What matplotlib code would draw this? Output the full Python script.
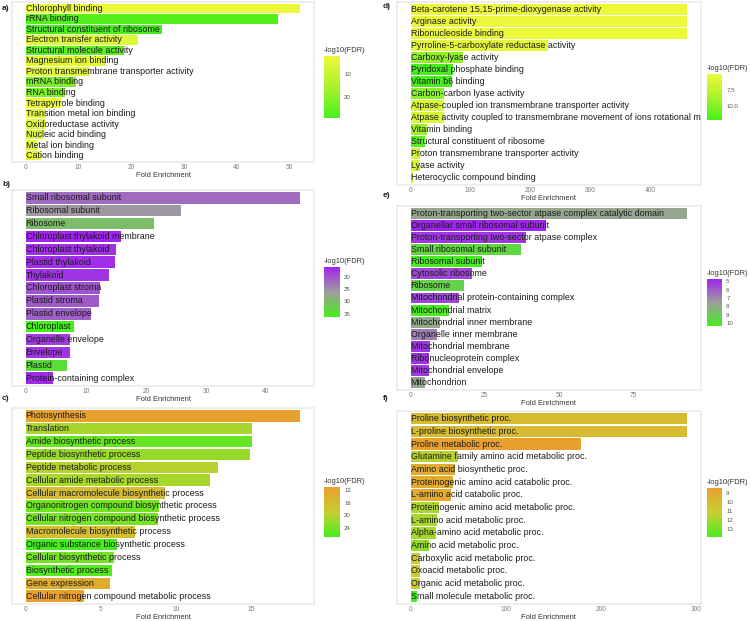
#!/usr/bin/env python3
"""
Six-panel GO enrichment bar chart (fold enrichment, coloured by -log10(FDR)).
"""

import matplotlib
matplotlib.use('Agg')
import matplotlib.pyplot as plt
from matplotlib.colors import LinearSegmentedColormap, Normalize
from matplotlib.cm import ScalarMappable

plt.rcParams['font.family'] = ['Liberation Sans', 'DejaVu Sans']

W, H = 750, 621

# ---- panel a) molecular function
a_terms = ['Chlorophyll binding', 'rRNA binding', 'Structural constituent of ribosome',
           'Electron transfer activity', 'Structural molecule activity', 'Magnesium ion binding',
           'Proton transmembrane transporter activity', 'mRNA binding', 'RNA binding',
           'Tetrapyrrole binding', 'Transition metal ion binding', 'Oxidoreductase activity',
           'Nucleic acid binding', 'Metal ion binding', 'Cation binding']
a_fold = [52.0, 47.8, 25.8, 21.3, 18.6, 15.2, 12.2, 9.6, 7.5, 6.7, 3.9, 3.6, 3.3, 2.2, 2.8]
a_fdr = [2.2, 27.0, 29.1, 5.0, 26.0, 4.0, 4.0, 22.0, 21.0, 3.0, 4.0, 5.0, 7.0, 4.0, 4.0]
a_xticks = [0, 10, 20, 30, 40, 50]
a_cticks = [10, 20]

# ---- panel b) cellular component
b_terms = ['Small ribosomal subunit', 'Ribosomal subunit', 'Ribosome',
           'Chloroplast thylakoid membrane', 'Chloroplast thylakoid', 'Plastid thylakoid',
           'Thylakoid', 'Chloroplast stroma', 'Plastid stroma', 'Plastid envelope',
           'Chloroplast', 'Organelle envelope', 'Envelope', 'Plastid',
           'Protein-containing complex']
b_fold = [45.7, 25.8, 21.3, 15.8, 15.0, 14.9, 13.8, 12.3, 12.2, 10.8, 8.0, 7.4, 7.4, 6.8, 4.5]
b_fdr = [22.0, 25.5, 30.0, 16.1, 17.0, 17.0, 17.5, 20.0, 20.5, 21.0, 36.3, 18.0, 17.5, 34.0, 16.5]
b_xticks = [0, 10, 20, 30, 40]
b_cticks = [20, 25, 30, 35]

# ---- panel c) biological process
c_terms = ['Photosynthesis', 'Translation', 'Amide biosynthetic process',
           'Peptide biosynthetic process', 'Peptide metabolic process',
           'Cellular amide metabolic process', 'Cellular macromolecule biosynthetic process',
           'Organonitrogen compound biosynthetic process',
           'Cellular nitrogen compound biosynthetic process',
           'Macromolecule biosynthetic process', 'Organic substance biosynthetic process',
           'Cellular biosynthetic process', 'Biosynthetic process', 'Gene expression',
           'Cellular nitrogen compound metabolic process']
c_fold = [18.3, 15.07, 15.05, 14.94, 12.8, 12.25, 9.31, 8.87, 8.83, 7.26, 6.07, 5.89, 5.78, 5.65, 3.9]
c_fdr = [11.2, 21.0, 25.0, 22.0, 20.0, 21.0, 16.0, 24.5, 24.0, 16.0, 27.0, 24.0, 26.0, 13.0, 10.9]
c_xticks = [0, 5, 10, 15]
c_cticks = [12, 16, 20, 24]

# ---- panel d) molecular function
d_terms = ['Beta-carotene 15,15-prime-dioxygenase activity', 'Arginase activity',
           'Ribonucleoside binding', 'Pyrroline-5-carboxylate reductase activity',
           'Carboxy-lyase activity', 'Pyridoxal phosphate binding', 'Vitamin b6 binding',
           'Carbon-carbon lyase activity', 'Atpase-coupled ion transmembrane transporter activity',
           'Atpase activity coupled to transmembrane movement of ions rotational mechanism',
           'Vitamin binding', 'Structural constituent of ribosome',
           'Proton transmembrane transporter activity', 'Lyase activity',
           'Heterocyclic compound binding']
d_fold = [461.7, 461.7, 461.7, 230.0, 88.0, 70.6, 69.5, 56.0, 56.0, 56.0, 27.2, 24.5, 15.3, 15.3, 4.1]
d_fdr = [5.0, 5.0, 5.0, 5.5, 9.5, 12.2, 12.0, 9.8, 6.0, 6.0, 9.0, 11.5, 6.5, 6.5, 6.5]
d_xticks = [0, 100, 200, 300, 400]
d_cticks = [7.5, 10.0]

# ---- panel e) cellular component
e_terms = ['Proton-transporting two-sector atpase complex catalytic domain',
           'Organellar small ribosomal subunit', 'Proton-transporting two-sector atpase complex',
           'Small ribosomal subunit', 'Ribosomal subunit', 'Cytosolic ribosome', 'Ribosome',
           'Mitochondrial protein-containing complex', 'Mitochondrial matrix',
           'Mitochondrial inner membrane', 'Organelle inner membrane', 'Mitochondrial membrane',
           'Ribonucleoprotein complex', 'Mitochondrial envelope', 'Mitochondrion']
e_fold = [93.0, 45.4, 38.8, 37.2, 24.0, 20.7, 18.0, 16.3, 12.9, 10.0, 9.0, 6.6, 6.3, 6.3, 4.7]
e_fdr = [7.8, 4.76, 5.2, 9.5, 10.3, 5.5, 9.3, 5.5, 10.2, 7.9, 6.8, 5.2, 5.0, 5.3, 7.8]
e_xticks = [0, 25, 50, 75]
e_cticks = [5, 6, 7, 8, 9, 10]

# ---- panel f) biological process
f_terms = ['Proline biosynthetic proc.', 'L-proline biosynthetic proc.',
           'Proline metabolic proc.', 'Glutamine family amino acid metabolic proc.',
           'Amino acid biosynthetic proc.', 'Proteinogenic amino acid catabolic proc.',
           'L-amino acid catabolic proc.', 'Proteinogenic amino acid metabolic proc.',
           'L-amino acid metabolic proc.', 'Alpha-amino acid metabolic proc.',
           'Amino acid metabolic proc.', 'Carboxylic acid metabolic proc.',
           'Oxoacid metabolic proc.', 'Organic acid metabolic proc.',
           'Small molecule metabolic proc.']
f_fold = [290.7, 290.7, 179.0, 49.7, 46.9, 44.8, 42.7, 29.4, 28.3, 26.6, 19.9, 9.9, 9.9, 9.9, 7.0]
f_fdr = [10.0, 10.0, 8.4, 11.5, 9.0, 9.0, 9.0, 11.7, 11.8, 11.9, 12.3, 11.0, 11.0, 11.0, 13.9]
f_xticks = [0, 100, 200, 300]
f_cticks = [9, 10, 11, 12, 13]

# colour scales (low value first = top of the colour bar)
yellow_green = LinearSegmentedColormap.from_list('yg', ['#ECF93A', '#AAF22C', '#46EE1C'])
purple_green = LinearSegmentedColormap.from_list('pg', ['#A024EE', '#9E9E9C', '#46EE1C'])
orange_green = LinearSegmentedColormap.from_list('og', ['#E9A02E', '#C8CE32', '#46EE1C'])


def px_axes(fig, x0, y0, x1, y1):
    """Add axes from pixel box (top-left origin)."""
    return fig.add_axes([x0 / W, 1 - y1 / H, (x1 - x0) / W, (y1 - y0) / H])


def draw_panel(fig, box, cbox, terms, fold, fdr, cmap, xticks, cticks, letter, lpos):
    ax = px_axes(fig, *box)
    n = len(terms)
    norm = Normalize(vmin=min(fdr), vmax=max(fdr))
    ypos = list(range(n, 0, -1))
    ax.barh(ypos, fold, height=0.9, color=cmap(norm(fdr)), zorder=2)
    for y, t in zip(ypos, terms):
        ax.text(0, y, t, ha='left', va='center', fontsize=6.4, color='#1A1A1A',
                clip_on=True, zorder=3)
    fmax = max(fold)
    ax.set_xlim(-0.05 * fmax, 1.05 * fmax)
    ax.set_ylim(0.4, n + 0.6)
    ax.set_yticks([])
    ax.set_xticks(xticks)
    ax.tick_params(axis='x', length=0, labelsize=4.8, labelcolor='#7F7F7F', pad=1.5)
    ax.set_xlabel('Fold Enrichment', fontsize=5.4, color='#333333', labelpad=0.5)
    for s in ax.spines.values():
        s.set_color('#EBEBEB')
        s.set_linewidth(1.2)

    cax = px_axes(fig, *cbox)
    cb = fig.colorbar(ScalarMappable(norm=norm, cmap=cmap), cax=cax)
    cb.outline.set_visible(False)
    cax.invert_yaxis()
    cb.set_ticks(cticks)
    cax.tick_params(length=0, labelsize=4.4, labelcolor='#555555', pad=3)
    cax.text(0, 1.04, '-log10(FDR)', transform=cax.transAxes, ha='left', va='bottom',
             fontsize=5.4, color='#333333')

    fig.text(lpos[0] / W, 1 - lpos[1] / H, letter, fontsize=6, color='#222222',
             fontweight='bold', ha='left', va='center')


fig = plt.figure(figsize=(W / 100, H / 100), dpi=100)

draw_panel(fig, (12, 2, 314, 162), (324, 56, 340, 118), a_terms, a_fold, a_fdr,
           yellow_green, a_xticks, a_cticks, 'a)', (2, 9))
draw_panel(fig, (12, 190, 314, 386), (324, 267, 340, 317), b_terms, b_fold, b_fdr,
           purple_green, b_xticks, b_cticks, 'b)', (2, 184))
draw_panel(fig, (12, 408, 314, 604), (324, 487, 340, 537), c_terms, c_fold, c_fdr,
           orange_green, c_xticks, c_cticks, 'c)', (2, 399))
draw_panel(fig, (396.7, 2, 701, 185), (707, 74, 722, 120), d_terms, d_fold, d_fdr,
           yellow_green, d_xticks, d_cticks, 'd)', (383, 7))
draw_panel(fig, (396.7, 206, 701, 390), (707, 279, 722, 326), e_terms, e_fold, e_fdr,
           purple_green, e_xticks, e_cticks, 'e)', (383, 195))
draw_panel(fig, (396.7, 411, 701, 604), (707, 488, 722, 537), f_terms, f_fold, f_fdr,
           orange_green, f_xticks, f_cticks, 'f)', (383, 399))

fig.savefig('out.png', dpi=100)
plt.close(fig)
